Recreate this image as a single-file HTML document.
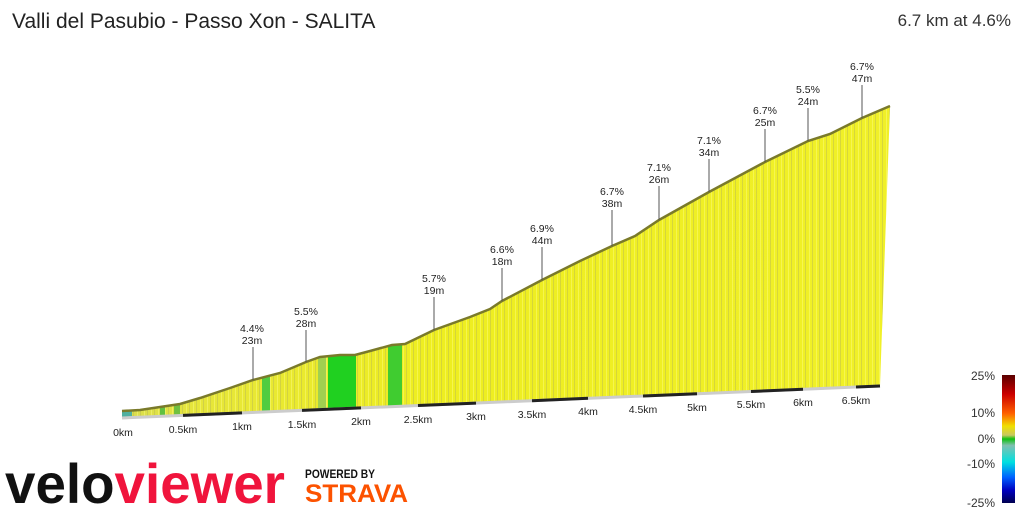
<!DOCTYPE html>
<html><head><meta charset="utf-8"><style>
body{margin:0;width:1024px;height:512px;background:#fff;overflow:hidden;font-family:"Liberation Sans",sans-serif}
</style></head><body>
<svg width="1024" height="512" viewBox="0 0 1024 512" xmlns="http://www.w3.org/2000/svg" font-family="Liberation Sans, sans-serif">
<defs>
<linearGradient id="y" x1="0" x2="1" y1="0" y2="0">
<stop offset="0" stop-color="#d8dc50"/><stop offset="0.1" stop-color="#e6e63a"/><stop offset="0.4" stop-color="#eeee20"/><stop offset="1" stop-color="#f0f028"/>
</linearGradient>
<pattern id="st" width="7" height="10" patternUnits="userSpaceOnUse">
<rect x="0" width="1" height="10" fill="#b0b060" opacity="0.4"/><rect x="4" width="1" height="10" fill="#ffff90" opacity="0.4"/>
</pattern>
<linearGradient id="lg" x1="0" x2="0" y1="0" y2="1">
<stop offset="0" stop-color="#5a0000"/><stop offset="0.15" stop-color="#cc0000"/><stop offset="0.3" stop-color="#ff6000"/><stop offset="0.4" stop-color="#f0e000"/><stop offset="0.47" stop-color="#c8c860"/><stop offset="0.5" stop-color="#10c010"/><stop offset="0.55" stop-color="#80c0b0"/><stop offset="0.68" stop-color="#00e0e0"/><stop offset="0.8" stop-color="#0060ff"/><stop offset="0.9" stop-color="#0000c0"/><stop offset="1" stop-color="#000050"/>
</linearGradient>
<clipPath id="pc"><path d="M122,411 L140,410 160,407 180,404 200,398 230,388 253,380 280,373 306,362 320,357 340,355 355,355 370,351 392,345 405,344 434,330 470,317 490,309 502,301 542,280 580,261 612,246 635,236 659,220 709,192 765,162 808,141 830,134 862,118 890,106 880,386 122,418 Z"/></clipPath>
</defs>
<text x="12" y="28" font-size="21" fill="#222">Valli del Pasubio - Passo Xon - SALITA</text>
<text x="1011" y="26" font-size="17" fill="#333" text-anchor="end">6.7 km at 4.6%</text>
<g clip-path="url(#pc)">
<rect x="120" y="100" width="772" height="320" fill="url(#y)"/>
<rect x="120" y="100" width="772" height="320" fill="url(#st)"/>
<rect x="122" y="395" width="10" height="25" fill="#50b0a0"/>
<rect x="160" y="395" width="5" height="25" fill="#60c040"/>
<rect x="174" y="395" width="6" height="25" fill="#70c040"/>
<rect x="262" y="370" width="8" height="50" fill="#50cc40"/>
<rect x="318" y="350" width="8" height="70" fill="#a0d050"/>
<rect x="328" y="350" width="28" height="70" fill="#20d020"/>
<rect x="388" y="340" width="14" height="80" fill="#40cc30"/>
</g>
<path d="M122,411 L140,410 160,407 180,404 200,398 230,388 253,380 280,373 306,362 320,357 340,355 355,355 370,351 392,345 405,344 434,330 470,317 490,309 502,301 542,280 580,261 612,246 635,236 659,220 709,192 765,162 808,141 830,134 862,118 890,106" fill="none" stroke="#7a7a2a" stroke-width="2.5"/>
<line x1="122" y1="418" x2="880" y2="386" stroke="#ccc" stroke-width="3"/>
<g stroke="#222" stroke-width="3">
<line x1="183" y1="415.4" x2="242" y2="412.9"/><line x1="302" y1="410.4" x2="361" y2="407.9"/><line x1="418" y1="405.5" x2="476" y2="403.1"/><line x1="532" y1="400.7" x2="588" y2="398.3"/><line x1="643" y1="396" x2="697" y2="393.7"/><line x1="751" y1="391.5" x2="803" y2="389.3"/><line x1="856" y1="387" x2="880" y2="386"/>
</g>
<g font-size="10.5" fill="#222" text-anchor="middle">
<text x="123" y="436">0km</text><text x="183" y="433">0.5km</text><text x="242" y="430">1km</text><text x="302" y="428">1.5km</text><text x="361" y="425">2km</text><text x="418" y="423">2.5km</text><text x="476" y="420">3km</text><text x="532" y="418">3.5km</text><text x="588" y="415">4km</text><text x="643" y="413">4.5km</text><text x="697" y="411">5km</text><text x="751" y="408">5.5km</text><text x="803" y="406">6km</text><text x="856" y="404">6.5km</text>
</g>
<g font-size="10.5" fill="#222" text-anchor="middle" stroke-width="1">
<text x="252" y="332">4.4%</text><text x="252" y="344">23m</text><line x1="253" y1="347" x2="253" y2="380" stroke="#555"/>
<text x="306" y="315">5.5%</text><text x="306" y="327">28m</text><line x1="306" y1="330" x2="306" y2="362" stroke="#555"/>
<text x="434" y="282">5.7%</text><text x="434" y="294">19m</text><line x1="434" y1="297" x2="434" y2="330" stroke="#555"/>
<text x="502" y="253">6.6%</text><text x="502" y="265">18m</text><line x1="502" y1="268" x2="502" y2="301" stroke="#555"/>
<text x="542" y="232">6.9%</text><text x="542" y="244">44m</text><line x1="542" y1="247" x2="542" y2="280" stroke="#555"/>
<text x="612" y="195">6.7%</text><text x="612" y="207">38m</text><line x1="612" y1="210" x2="612" y2="246" stroke="#555"/>
<text x="659" y="171">7.1%</text><text x="659" y="183">26m</text><line x1="659" y1="186" x2="659" y2="220" stroke="#555"/>
<text x="709" y="144">7.1%</text><text x="709" y="156">34m</text><line x1="709" y1="159" x2="709" y2="192" stroke="#555"/>
<text x="765" y="114">6.7%</text><text x="765" y="126">25m</text><line x1="765" y1="129" x2="765" y2="162" stroke="#555"/>
<text x="808" y="93">5.5%</text><text x="808" y="105">24m</text><line x1="808" y1="108" x2="808" y2="141" stroke="#555"/>
<text x="862" y="70">6.7%</text><text x="862" y="82">47m</text><line x1="862" y1="85" x2="862" y2="118" stroke="#555"/>
</g>
<rect x="1002" y="375" width="13" height="128" fill="url(#lg)"/>
<g font-size="12" fill="#333" text-anchor="end">
<text x="995" y="380">25%</text><text x="995" y="417">10%</text><text x="995" y="443">0%</text><text x="995" y="468">-10%</text><text x="995" y="507">-25%</text>
</g>
<text x="5" y="503" font-size="56" font-weight="bold" textLength="280" lengthAdjust="spacingAndGlyphs" fill="#111">velo<tspan fill="#f0143c">viewer</tspan></text>
<text x="305" y="478" font-size="11.5" font-weight="bold" textLength="70" lengthAdjust="spacingAndGlyphs" fill="#111">POWERED BY</text>
<text x="305" y="502" font-size="25" font-weight="bold" fill="#fc5200" textLength="103" lengthAdjust="spacingAndGlyphs">STRAVA</text>
</svg>
</body></html>
